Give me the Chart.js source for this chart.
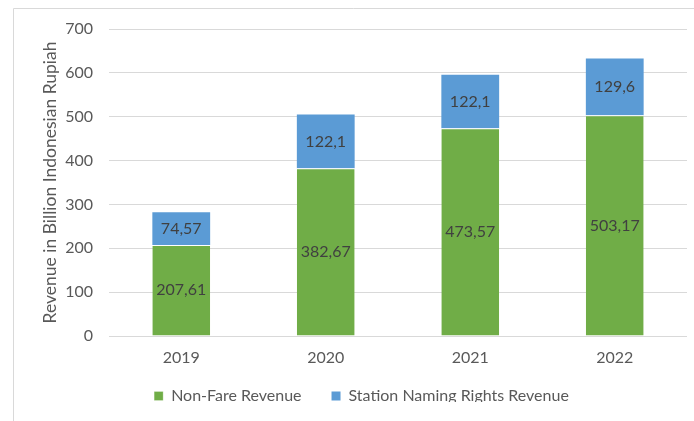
<!DOCTYPE html>
<html>
<head>
<meta charset="utf-8">
<script src="https://cdn.jsdelivr.net/npm/chart.js@4"></script>
<style>
  html, body { margin: 0; padding: 0; background: #fff; }
  #wrap { width: 694px; height: 421px; position: relative; }
</style>
</head>
<body>
<div id="wrap"><canvas id="revenueChart" width="694" height="421"></canvas></div>
<script>
const years = ["2019", "2020", "2021", "2022"];
const nonFare = [207.61, 382.67, 473.57, 503.17];
const naming = [74.57, 122.1, 122.1, 129.6];
const seriesNames = ["Non-Fare Revenue", "Station Naming Rights Revenue"];
const yTicks = [0, 100, 200, 300, 400, 500, 600, 700];

const fontFamily = "Lato, 'Open Sans', sans-serif";
const gridColor = "#d9d9d9";
const textColor = "#595959";
const legendLift = 12; // legend sits closer to the axis labels than Chart.js allows

// draws the value inside every bar segment, comma decimals like the source
const barLabels = {
  id: "barLabels",
  afterDatasetsDraw: function (chart) {
    const ctx = chart.ctx;
    ctx.save();
    ctx.font = "16px " + fontFamily;
    ctx.fillStyle = "#404040";
    ctx.textAlign = "center";
    ctx.textBaseline = "middle";
    chart.data.datasets.forEach((ds, i) => {
      chart.getDatasetMeta(i).data.forEach((bar, j) => {
        const mid = (bar.y + bar.base) / 2;
        ctx.fillText(String(ds.data[j]).replace(".", ","), bar.x, mid);
      });
    });
    ctx.restore();
  },
};

// thin frame on top and left, as in the screenshot
const frame = {
  id: "frame",
  beforeDraw: function (chart) {
    const ctx = chart.ctx;
    ctx.save();
    ctx.strokeStyle = gridColor;
    ctx.lineWidth = 1;
    ctx.beginPath();
    ctx.moveTo(13.5, chart.height);
    ctx.lineTo(13.5, 8.5);
    ctx.lineTo(chart.width, 8.5);
    ctx.stroke();
    ctx.restore();
  },
};

// keep the wide gap between legend items but pull the legend up
const tightLegend = {
  id: "tightLegend",
  beforeLayout: function (chart) {
    const lg = chart.legend;
    if (lg && !lg._tightFit) {
      const origFit = lg.fit;
      lg.fit = function () {
        origFit.call(this);
        this.height -= legendLift;
      };
      lg._tightFit = true;
    }
  },
  afterLayout: function (chart) {
    const lg = chart.legend;
    if (lg) {
      lg.top -= legendLift;
      lg.bottom -= legendLift;
    }
  },
};

const ctx = document.getElementById("revenueChart").getContext("2d");
new Chart(ctx, {
  type: "bar",
  data: {
    labels: years,
    datasets: [
      {
        label: seriesNames[0],
        data: nonFare,
        backgroundColor: "#70AD47",
        borderColor: "#ffffff",
        borderWidth: { top: 1, left: 0, right: 0, bottom: 0 },
        borderSkipped: false,
        categoryPercentage: 1,
        barPercentage: 0.4,
      },
      {
        label: seriesNames[1],
        data: naming,
        backgroundColor: "#5B9BD5",
        borderWidth: 0,
        categoryPercentage: 1,
        barPercentage: 0.4,
      },
    ],
  },
  options: {
    responsive: false,
    animation: false,
    layout: {
      padding: { top: 29, left: 36, right: 7, bottom: 7 },
    },
    plugins: {
      legend: {
        position: "bottom",
        labels: {
          boxWidth: 9,
          boxHeight: 9,
          padding: 30,
          color: textColor,
          font: { family: fontFamily, size: 16 },
        },
      },
      tooltip: { enabled: false },
    },
    scales: {
      x: {
        stacked: true,
        afterFit: function (scale) {
          scale.height = 34;
        },
        grid: { display: false, drawTicks: false },
        border: { display: false },
        ticks: {
          color: textColor,
          padding: 12,
          font: { family: fontFamily, size: 16 },
        },
      },
      y: {
        stacked: true,
        min: 0,
        max: 700,
        afterBuildTicks: function (scale) {
          scale.ticks = yTicks.map((v) => ({ value: v }));
        },
        afterFit: function (scale) {
          scale.width = 73;
        },
        grid: { color: gridColor, drawTicks: false },
        border: { display: false },
        ticks: {
          color: textColor,
          padding: 16,
          font: { family: fontFamily, size: 16 },
        },
        title: {
          display: true,
          text: "Revenue in Billion Indonesian Rupiah",
          color: textColor,
          padding: { top: 4, bottom: 4 },
          font: { family: fontFamily, size: 17.5 },
        },
      },
    },
  },
  plugins: [frame, tightLegend, barLabels],
});
</script>
</body>
</html>
